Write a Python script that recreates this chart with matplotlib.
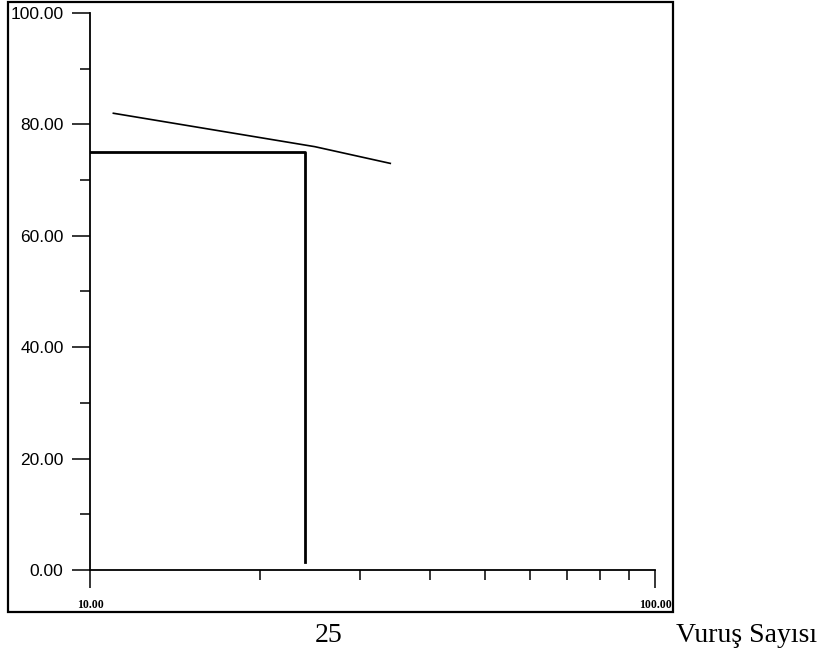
import matplotlib.pyplot as plt
from matplotlib.patches import Rectangle
from matplotlib.ticker import FixedLocator, NullFormatter

# veri
vurus = [11, 25, 34]
su_icerigi = [82, 76, 73]
ll_vurus = 24
ll_deger = 75
y_ticks = [0, 20, 40, 60, 80, 100]
y_labels = ["0.00", "20.00", "40.00", "60.00", "80.00", "100.00"]

fig = plt.figure(figsize=(8.21, 6.56), dpi=100)
ax = fig.add_axes([0.1096, 0.1311, 0.6882, 0.8491])

ax.plot(vurus, su_icerigi, color="black", lw=1.2)
ax.plot([10, ll_vurus, ll_vurus], [ll_deger, ll_deger, 1.5], color="black", lw=2)

ax.set_xscale("log")
ax.set_xlim(10, 100)
ax.set_ylim(0, 100)

for s in ["top", "right"]:
    ax.spines[s].set_visible(False)
ax.spines["left"].set_linewidth(1.3)
ax.spines["bottom"].set_linewidth(1.3)

ax.set_yticks(y_ticks)
ax.set_yticklabels(y_labels, family="Liberation Sans", fontsize=12.5)
ax.yaxis.set_minor_locator(FixedLocator([10, 30, 50, 70, 90]))
ax.tick_params(axis="y", which="major", length=13, width=1.1, pad=6)
ax.tick_params(axis="y", which="minor", length=7, width=1.1)

ax.xaxis.set_major_locator(FixedLocator([10, 100]))
ax.xaxis.set_minor_locator(FixedLocator(range(20, 100, 10)))
ax.xaxis.set_major_formatter(NullFormatter())
ax.xaxis.set_minor_formatter(NullFormatter())
ax.tick_params(axis="x", which="major", length=13, width=1.1)
ax.tick_params(axis="x", which="minor", length=7, width=1.1)

xt = ax.get_xaxis_transform()
ax.text(10, -0.062, "10.00", transform=xt, ha="center", va="center",
        family="Liberation Serif", fontweight="bold", fontsize=8.5)
ax.text(100, -0.062, "100.00", transform=xt, ha="center", va="center",
        family="Liberation Serif", fontweight="bold", fontsize=8.5)

# dış çerçeve
fig.patches.append(Rectangle((0.0097, 0.067), 0.81, 0.93, transform=fig.transFigure,
                             fill=False, lw=1.6, ec="black"))

fig.text(0.40, 0.032, "25", ha="center", va="center",
         family="Liberation Serif", fontsize=20)
fig.text(0.823, 0.032, "Vuruş Sayısı", ha="left", va="center",
         family="Liberation Serif", fontsize=20)

fig.savefig("out.png", dpi=100)
